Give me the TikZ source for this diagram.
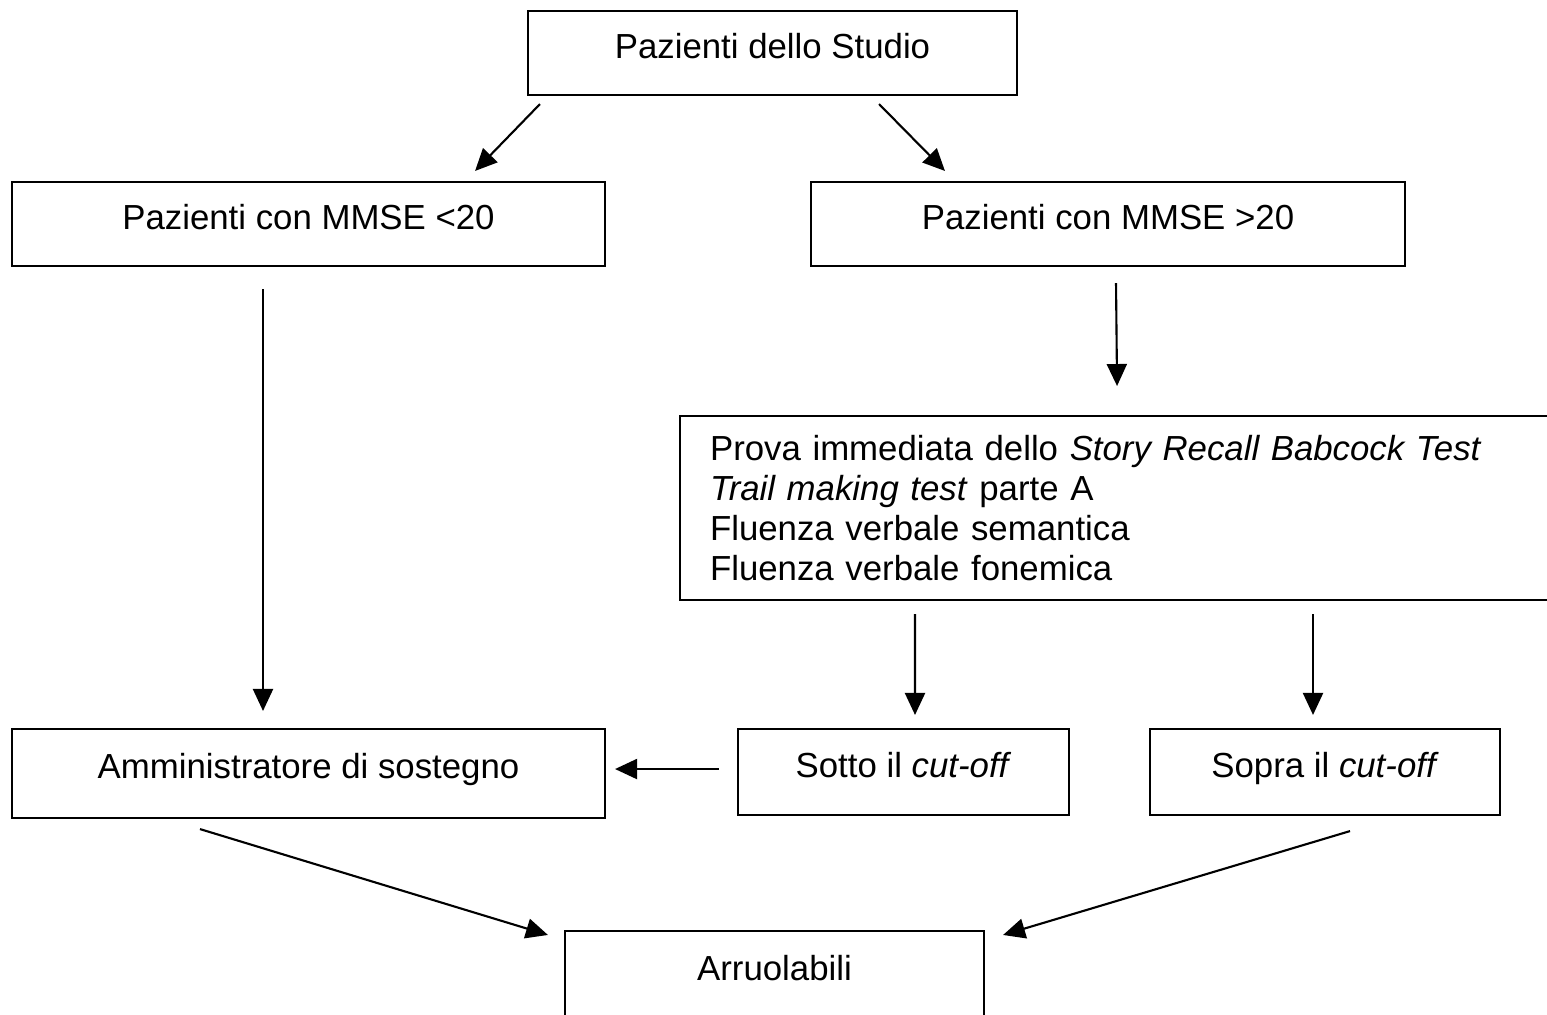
\documentclass[tikz,border=0pt]{standalone}
\usepackage{fontspec}
\setmainfont{Liberation Sans}
\usetikzlibrary{positioning}
\usetikzlibrary{arrows.meta}

\begin{document}
\begin{tikzpicture}[x=0.1mm, y=-0.1mm,
  box/.style={draw, line width=0.6pt, inner sep=0pt, font=\fontsize{9.9}{11.4}\selectfont, text height=2.6mm, text depth=1.6mm},
  lista/.style={draw, line width=0.6pt, inner xsep=3mm, inner ysep=0pt, align=left, font=\fontsize{9.9}{11.4}\selectfont},
  freccia/.style={line width=0.6pt, -{Triangle[length=2.2mm, width=2.0mm]}}]

\useasboundingbox (0,0) rectangle (1547,1014);

 \node[box, minimum width=48.9mm, minimum height=8.4mm] (studio) at (772.5,53) {Pazienti dello Studio}; % Box iniziale
 \node[box, minimum width=59.3mm, minimum height=8.4mm] (mmsebasso) at (308.5,224) {Pazienti con MMSE <20};
 \node[box, minimum width=59.4mm, minimum height=8.4mm] (mmsealto) at (1108,224) {Pazienti con MMSE >20};

 % Batteria di test
 \node[lista, anchor=north west, text width=81.3mm, minimum height=18.4mm] (test) at (679,415)
   {Prova immediata dello \textit{Story Recall Babcock Test}\\
    \textit{Trail making test} parte A\\
    Fluenza verbale semantica\\
    Fluenza verbale fonemica};

 \node[box, minimum width=59.3mm, minimum height=8.9mm] (amm) at (308.5,773.5) {Amministratore di sostegno};
 \node[box, minimum width=33.1mm, minimum height=8.6mm] (sotto) at (903.5,772) {Sotto il \textit{cut-off}};
 \node[box, minimum width=35mm, minimum height=8.6mm] (sopra) at (1325,772) {Sopra il \textit{cut-off}};
 \node[box, minimum width=41.9mm, minimum height=8.8mm] (arruol) at (774.5,975) {Arruolabili}; % Esito finale

 % Frecce
 \draw[freccia] ([shift={(13,8)}]studio.south west) -- ([shift={(-131,-10)}]mmsebasso.north east);
 \draw[freccia] ([shift={(-139,8)}]studio.south east) -- ([shift={(135,-10)}]mmsealto.north west);
 \draw[freccia] ([shift={(-45.5,22)}]mmsebasso.south) -- ([shift={(-45.5,-17)}]amm.north);
 \draw[freccia] ([shift={(8,16)}]mmsealto.south) -- ([shift={(0.5,-29)}]test.north);
 \draw[freccia] ([shift={(236,13)}]test.south west) -- ([shift={(11.5,-13)}]sotto.north);
 \draw[freccia] ([shift={(634,13)}]test.south west) -- ([shift={(-12,-13)}]sopra.north);
 \draw[freccia] ([shift={(-18,-3)}]sotto.west) -- ([shift={(9,-4.5)}]amm.east);
 \draw[freccia] ([shift={(-108.5,10)}]amm.south) -- ([shift={(-16,5)}]arruol.north west);
 \draw[freccia] ([shift={(25,15)}]sopra.south) -- ([shift={(18,5)}]arruol.north east);

\end{tikzpicture}
\end{document}
